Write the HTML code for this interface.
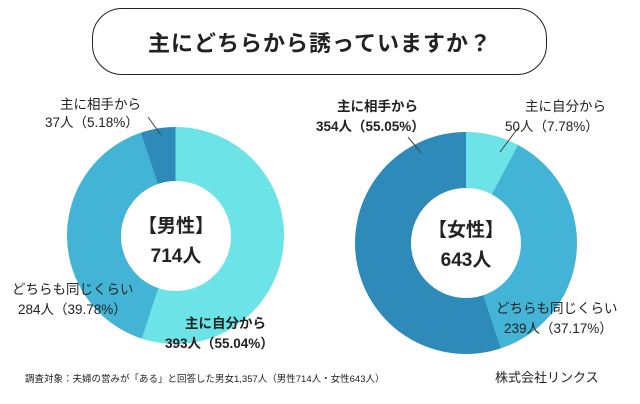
<!DOCTYPE html>
<html><head><meta charset="utf-8"><style>
body{margin:0;width:640px;height:404px;background:#fff;position:relative;overflow:hidden;font-family:"Liberation Sans","Noto Sans CJK JP",sans-serif;color:#222}
.box{position:absolute;left:92px;top:8px;width:453px;height:65px;border:1.5px solid #222;border-radius:30px}
.title{position:absolute;left:0;width:640px;top:26px;text-align:center;font-size:22px;font-weight:bold;letter-spacing:1px}
.d{position:absolute;border-radius:50%}
.h{position:absolute;border-radius:50%;background:#fff}
.t{position:absolute;font-size:13.5px;line-height:19px;white-space:nowrap}
.b{font-weight:bold}
.c{position:absolute;text-align:center;font-size:19px;line-height:30px;font-weight:bold;width:120px}
</style></head><body>
<div class="box"></div>
<div class="title">主にどちらから誘っていますか？</div>

<div class="d" style="left:67px;top:127px;width:217px;height:217px;background:conic-gradient(#6ce3e6 0 198.1deg,#43b4d6 198.1deg 341.4deg,#2e8bb9 341.4deg 360deg)"></div>
<div class="h" style="left:121px;top:181px;width:110px;height:110px"></div>
<div class="c" style="left:116px;top:212px">【男性】<br>714人</div>

<div class="d" style="left:355px;top:132px;width:222px;height:222px;background:conic-gradient(#6ce3e6 0 28deg,#43b4d6 28deg 161.8deg,#2e8bb9 161.8deg 360deg)"></div>
<div class="h" style="left:411px;top:188px;width:110px;height:110px"></div>
<div class="c" style="left:406px;top:216px">【女性】<br>643人</div>

<svg style="position:absolute;left:0;top:0" width="640" height="404">
<line x1="148" y1="117" x2="161" y2="135" stroke="#444" stroke-width="1"/>
<line x1="408" y1="137" x2="421" y2="153" stroke="#444" stroke-width="1"/>
<line x1="518" y1="128" x2="500" y2="152" stroke="#444" stroke-width="1"/>
</svg>

<div class="t" style="left:60px;top:95px">主に相手から</div>
<div class="t" style="left:45px;top:113px">37人（5.18%）</div>
<div class="t b" style="left:337px;top:97px">主に相手から</div>
<div class="t b" style="left:316px;top:117px">354人（55.05%）</div>
<div class="t" style="left:525px;top:97px">主に自分から</div>
<div class="t" style="left:505px;top:117px">50人（7.78%）</div>
<div class="t" style="left:12px;top:280px">どちらも同じくらい</div>
<div class="t" style="left:18px;top:300px">284人（39.78%）</div>
<div class="t b" style="left:185px;top:314px">主に自分から</div>
<div class="t b" style="left:165px;top:334px">393人（55.04%）</div>
<div class="t" style="left:496px;top:299px">どちらも同じくらい</div>
<div class="t" style="left:504px;top:319px">239人（37.17%）</div>

<div class="t" style="left:25px;top:370px;font-size:9.5px">調査対象：夫婦の営みが「ある」と回答した男女1,357人（男性714人・女性643人）</div>
<div class="t" style="left:495px;top:368px;font-size:13px">株式会社リンクス</div>
</body></html>
